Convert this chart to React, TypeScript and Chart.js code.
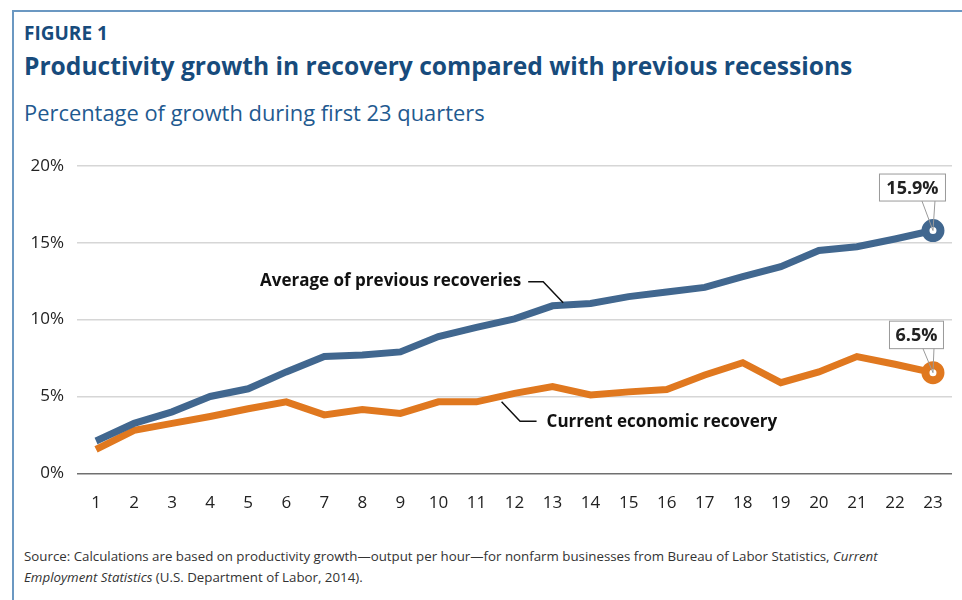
import React, { useEffect, useRef } from "react";
import { Chart, registerables } from "chart.js";

Chart.register(...registerables);

const quarters = ["1","2","3","4","5","6","7","8","9","10","11","12","13","14","15","16","17","18","19","20","21","22","23"];
const previousRecoveries = [2.1, 3.25, 4.0, 5.0, 5.5, 6.6, 7.6, 7.7, 7.9, 8.9, 9.5, 10.05, 10.9, 11.05, 11.5, 11.8, 12.1, 12.8, 13.45, 14.5, 14.75, 15.25, 15.8];
const currentRecovery = [1.55, 2.8, 3.25, 3.7, 4.2, 4.65, 3.8, 4.15, 3.9, 4.65, 4.65, 5.2, 5.65, 5.1, 5.3, 5.45, 6.4, 7.2, 5.9, 6.6, 7.6, 7.1, 6.55];
const yTicks = [0, 5, 10, 15, 20];
const endLabels = ["15.9%", "6.5%"];
const seriesNames = ["Average of previous recoveries", "Current economic recovery"];

const BLUE = "#41678f";
const ORANGE = "#e0781f";
const FONT = "'Open Sans', sans-serif";

const annotationPlugin = {
  id: "annos",
  afterDatasetsDraw(chart: any) {
    const ctx = chart.ctx;
    const xs = chart.scales.x;
    const ys = chart.scales.y;
    const x0 = xs.getPixelForValue(0);
    const dx = xs.getPixelForValue(1) - x0;
    const px = (i: number) => x0 + dx * i;
    ctx.save();
    ctx.strokeStyle = "#111";
    ctx.lineWidth = 1.5;
    ctx.fillStyle = "#111";
    ctx.font = `bold 17px ${FONT}`;
    ctx.textBaseline = "middle";
    {
      const ax = px(12.28);
      const ay = ys.getPixelForValue(11.1);
      ctx.beginPath();
      ctx.moveTo(ax, ay);
      ctx.lineTo(ax - 20, ay - 21);
      ctx.lineTo(ax - 35, ay - 21);
      ctx.stroke();
      ctx.textAlign = "right";
      ctx.fillText(seriesNames[0], ax - 42, ay - 22);
    }
    {
      const ax = px(10.66);
      const ay = ys.getPixelForValue(4.65);
      ctx.beginPath();
      ctx.moveTo(ax, ay);
      ctx.lineTo(ax + 18.5, ay + 19.5);
      ctx.lineTo(ax + 35, ay + 19.5);
      ctx.stroke();
      ctx.textAlign = "left";
      ctx.fillText(seriesNames[1], ax + 45, ay + 20.5);
    }
    const drawCallout = (val: number, text: string, l: number, r: number, t: number, b: number, tl: number, tr: number) => {
      const cx = px(22);
      const cy = ys.getPixelForValue(val);
      ctx.fillStyle = "#fff";
      ctx.strokeStyle = "#9a9a9a";
      ctx.lineWidth = 1;
      ctx.fillRect(cx + l, cy + t, r - l, b - t);
      ctx.strokeRect(cx + l + 0.5, cy + t + 0.5, r - l - 1, b - t - 1);
      ctx.beginPath();
      ctx.moveTo(cx + tl, cy + b - 0.5);
      ctx.lineTo(cx, cy);
      ctx.lineTo(cx + tr, cy + b - 0.5);
      ctx.stroke();
      ctx.fillStyle = "#222";
      ctx.font = `bold 18px ${FONT}`;
      ctx.textAlign = "center";
      ctx.textBaseline = "middle";
      ctx.fillText(text, cx + (l + r) / 2, cy + (t + b) / 2 + 1);
    };
    drawCallout(previousRecoveries[22], endLabels[0], -54, 13, -57, -29, -11, 2);
    drawCallout(currentRecovery[22], endLabels[1], -44, 11, -52, -23.5, -10, 1);
    ctx.restore();
  },
};

function ChartView() {
  const ref = useRef<HTMLCanvasElement | null>(null);
  useEffect(() => {
    if (!ref.current) return;
    const radii = quarters.map((_, i) => (i === quarters.length - 1 ? 7.5 : 0));
    const chart = new Chart(ref.current, {
      type: "line",
      data: {
        labels: quarters,
        datasets: [
          {
            label: seriesNames[0],
            data: previousRecoveries,
            borderColor: BLUE,
            borderWidth: 7,
            borderJoinStyle: "miter",
            pointRadius: radii,
            pointBorderWidth: 8,
            pointBorderColor: BLUE,
            pointBackgroundColor: "#fff",
            tension: 0,
          },
          {
            label: seriesNames[1],
            data: currentRecovery,
            borderColor: ORANGE,
            borderWidth: 7,
            borderJoinStyle: "miter",
            pointRadius: radii,
            pointBorderWidth: 8,
            pointBorderColor: ORANGE,
            pointBackgroundColor: "#fff",
            tension: 0,
          },
        ],
      },
      options: {
        responsive: false,
        animation: false,
        layout: { autoPadding: false, padding: { top: 26, right: 10, left: 0, bottom: 0 } },
        plugins: {
          legend: { display: false },
          tooltip: { enabled: false },
          title: { display: false },
        },
        scales: {
          x: {
            type: "category",
            offset: true,
            grid: { display: false, drawTicks: true, tickLength: 20 },
            border: { display: false },
            ticks: { color: "#222", font: { family: FONT, size: 17 }, padding: 0, maxRotation: 0, autoSkip: false },
            afterFit: (s: any) => { s.height = 46.7; s.paddingLeft = 0; s.paddingRight = 0; },
          },
          y: {
            min: 0,
            max: 20,
            afterBuildTicks: (s: any) => { s.ticks = yTicks.map((v) => ({ value: v })); },
            grid: {
              drawTicks: false,
              color: (c: any) => (c.tick && c.tick.value === 0 ? "#707070" : "#d6d6d6"),
              lineWidth: 1.5,
            },
            border: { display: false },
            ticks: { color: "#222", font: { family: FONT, size: 17 }, padding: 13, callback: (v: any) => `${v}%` },
            afterFit: (s: any) => { s.width = 77; s.paddingTop = 0; s.paddingBottom = 0; },
          },
        },
      },
      plugins: [annotationPlugin],
    } as any);
    return () => chart.destroy();
  }, []);
  return <canvas ref={ref} width={962} height={380} style={{ position: "absolute", left: 0, top: 140, width: 962, height: 380 }} />;
}

export default function App() {
  useEffect(() => {
    document.body.style.margin = "0";
  }, []);
  const titleColor = "#174b7c";
  return (
    <div style={{ position: "relative", width: 962, height: 600, background: "#fff", overflow: "hidden", fontFamily: FONT }}>
      <div style={{ position: "absolute", left: 12, top: 10, right: -10, bottom: -10, borderTop: "2px solid #6b98c2", borderLeft: "2px solid #6b98c2" }} />
      <div style={{ position: "absolute", left: 24, top: 21, fontSize: 19, fontWeight: 700, color: titleColor, lineHeight: "24px", whiteSpace: "nowrap" }}>FIGURE 1</div>
      <div style={{ position: "absolute", left: 24, top: 49, fontSize: 24.6, fontWeight: 700, color: titleColor, lineHeight: "34px", whiteSpace: "nowrap" }}>Productivity growth in recovery compared with previous recessions</div>
      <div style={{ position: "absolute", left: 24, top: 98, fontSize: 21.9, fontWeight: 400, color: "#1f5a90", lineHeight: "30px", whiteSpace: "nowrap" }}>Percentage of growth during first 23 quarters</div>
      <ChartView />
      <div style={{ position: "absolute", left: 24, top: 546, fontSize: 13.3, color: "#333", lineHeight: "21px", width: 935, whiteSpace: "nowrap" }}>
        Source: Calculations are based on productivity growth—output per hour—for nonfarm businesses from Bureau of Labor Statistics, <i>Current</i>
        <br />
        <i>Employment Statistics</i> (U.S. Department of Labor, 2014).
      </div>
    </div>
  );
}
